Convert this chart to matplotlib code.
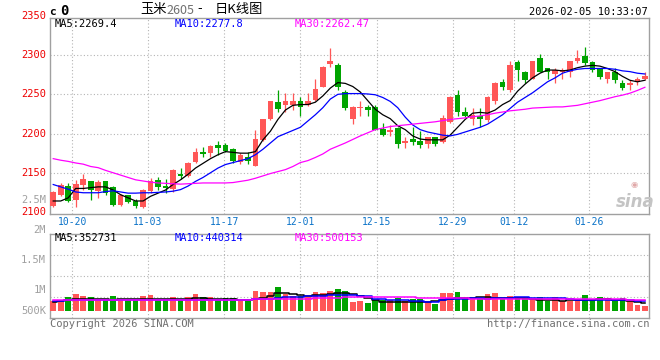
import numpy as np
import matplotlib
matplotlib.use("Agg")
import matplotlib.pyplot as plt
from matplotlib.transforms import blended_transform_factory

# daily candles (index 0 = first visible day)
opens = [2107, 2121, 2133, 2115, 2134, 2140, 2127, 2139, 2132, 2109,
         2121, 2114, 2106, 2127, 2141, 2133, 2129, 2149, 2146, 2164,
         2177, 2175, 2185, 2185, 2180, 2164, 2170, 2159, 2192, 2218,
         2240, 2236, 2237, 2242, 2236, 2243, 2260, 2289, 2288, 2253,
         2219, 2232, 2234, 2234, 2206, 2202, 2207, 2188, 2193, 2191,
         2187, 2195, 2189, 2215, 2249, 2228, 2218, 2223, 2217, 2241,
         2266, 2255, 2291, 2279, 2270, 2297, 2283, 2276, 2278, 2279,
         2292, 2299, 2291, 2282, 2270, 2279, 2264, 2262, 2266, 2270]
closes = [2126, 2134, 2114, 2136, 2142, 2128, 2138, 2124, 2109, 2121,
          2113, 2108, 2128, 2140, 2132, 2131, 2153, 2146, 2163, 2176,
          2174, 2184, 2181, 2178, 2165, 2173, 2165, 2193, 2218, 2241,
          2231, 2242, 2242, 2234, 2242, 2257, 2285, 2293, 2259, 2232,
          2234, 2234, 2230, 2205, 2198, 2205, 2187, 2191, 2189, 2186,
          2195, 2187, 2220, 2247, 2227, 2223, 2224, 2218, 2247, 2265,
          2260, 2287, 2281, 2268, 2293, 2278, 2278, 2281, 2281, 2292,
          2297, 2290, 2281, 2272, 2279, 2268, 2258, 2265, 2269, 2274]
highs = [2127, 2137, 2137, 2141, 2149, 2140, 2141, 2140, 2133, 2123,
         2122, 2117, 2129, 2143, 2145, 2142, 2155, 2156, 2164, 2181,
         2183, 2186, 2190, 2188, 2181, 2175, 2177, 2205, 2218, 2241,
         2256, 2252, 2252, 2247, 2252, 2269, 2286, 2309, 2290, 2256,
         2235, 2242, 2237, 2236, 2214, 2211, 2208, 2196, 2208, 2203,
         2195, 2196, 2224, 2248, 2256, 2234, 2233, 2232, 2248, 2266,
         2269, 2293, 2294, 2280, 2293, 2302, 2284, 2283, 2283, 2293,
         2306, 2311, 2292, 2284, 2279, 2283, 2268, 2268, 2272, 2279]
lows = [2106, 2120, 2113, 2106, 2128, 2115, 2118, 2122, 2107, 2108,
        2112, 2105, 2105, 2124, 2128, 2124, 2126, 2142, 2145, 2163,
        2170, 2170, 2173, 2176, 2163, 2161, 2161, 2158, 2190, 2217,
        2227, 2227, 2230, 2222, 2235, 2242, 2259, 2285, 2256, 2230,
        2212, 2222, 2222, 2204, 2197, 2197, 2182, 2182, 2186, 2182,
        2182, 2184, 2188, 2214, 2222, 2221, 2211, 2208, 2215, 2238,
        2255, 2253, 2267, 2265, 2270, 2278, 2270, 2264, 2270, 2272,
        2290, 2287, 2279, 2270, 2265, 2265, 2255, 2256, 2262, 2268]

ma5 = [2114, 2114, 2118, 2130, 2130, 2131, 2132, 2132, 2128, 2122,
       2118, 2114, 2114, 2120, 2124, 2128, 2135, 2141, 2148, 2156,
       2162, 2168, 2173, 2177, 2176, 2175, 2175, 2177, 2192, 2203,
       2218, 2230, 2236, 2237, 2237, 2240, 2248, 2258, 2265, 2264,
       2260, 2253, 2242, 2231, 2224, 2219, 2210, 2205, 2197, 2193,
       2192, 2192, 2192, 2198, 2208, 2218, 2226, 2227, 2226, 2230,
       2237, 2242, 2254, 2263, 2271, 2277, 2281, 2281, 2280, 2281,
       2284, 2286, 2287, 2286, 2283, 2279, 2273, 2268, 2266, 2268]
ma10 = [2135, 2132, 2129, 2125.5, 2124.5, 2124.5, 2124.5, 2126, 2127, 2125.5,
        2124, 2124, 2124.5, 2124.5, 2125, 2125.5, 2126.5, 2128.5, 2133, 2139,
        2144, 2150, 2156, 2160.5, 2163, 2165.5, 2168, 2173, 2180, 2188,
        2196, 2200, 2204, 2208, 2216, 2224, 2233, 2244, 2250, 2251,
        2251, 2251, 2250.5, 2249.5, 2246, 2241, 2233, 2221, 2211, 2205,
        2202, 2200, 2198, 2197, 2199, 2202, 2205, 2208, 2212, 2218,
        2224, 2232, 2240, 2246, 2252, 2259, 2266, 2271, 2277, 2280,
        2282, 2283, 2283, 2283, 2283, 2282, 2280, 2279, 2277, 2276]
ma30 = [2168, 2166, 2164.5, 2162.5, 2161, 2158, 2156.5, 2153, 2150, 2147,
        2144, 2141, 2139.5, 2138, 2137, 2136.5, 2136, 2135.5, 2136, 2136.5,
        2137, 2137, 2137, 2137, 2137.5, 2139, 2140.5, 2143, 2146, 2149,
        2151.5, 2154, 2158, 2163, 2165.5, 2169.5, 2174, 2180, 2184, 2188,
        2192.5, 2197, 2201, 2205, 2207, 2209, 2210, 2211, 2212, 2213,
        2214, 2215, 2216.5, 2218, 2219, 2220, 2221.5, 2222.5, 2224, 2226,
        2227.5, 2229, 2230, 2231, 2232.5, 2233, 2233.5, 2234, 2234, 2235,
        2236, 2238, 2240, 2242, 2244.5, 2247, 2249, 2251.5, 2255, 2259]

# volume in thousands
volume = [450, 450, 640, 765, 675, 630, 560, 490, 675, 500,
          490, 490, 675, 720, 490, 550, 640, 490, 630, 765,
          610, 630, 550, 565, 565, 470, 470, 900, 860, 860,
          1080, 770, 680, 680, 620, 860, 830, 900, 990, 900,
          405, 450, 360, 495, 495, 495, 600, 450, 540, 540,
          420, 315, 810, 810, 855, 540, 540, 600, 765, 810,
          540, 690, 600, 600, 540, 645, 450, 645, 450, 450,
          540, 720, 480, 645, 600, 450, 585, 450, 270, 225]
vma5 = [420, 450, 500, 540, 540, 540, 540, 520, 510, 520,
        530, 520, 520, 540, 540, 530, 520, 530, 550, 570,
        570, 560, 540, 520, 520, 510, 500, 540, 600, 690,
        790, 800, 760, 720, 690, 720, 740, 770, 800, 800,
        750, 690, 600, 495, 420, 390, 390, 390, 400, 420,
        420, 430, 495, 560, 570, 570, 600, 630, 620, 600,
        600, 580, 570, 570, 540, 510, 495, 480, 470, 480,
        480, 480, 500, 540, 540, 510, 490, 450, 400, 355]
vma10 = [450, 470, 490, 500, 510, 510, 510, 510, 510, 510,
         510, 510, 510, 510, 510, 510, 510, 510, 510, 510,
         510, 510, 510, 510, 510, 510, 510, 520, 540, 560,
         590, 620, 640, 650, 660, 680, 690, 700, 710, 720,
         700, 690, 660, 560, 520, 510, 495, 480, 450, 440,
         420, 420, 480, 540, 540, 560, 570, 570, 560, 570,
         570, 600, 615, 615, 590, 570, 570, 570, 570, 540,
         510, 495, 510, 510, 510, 500, 480, 480, 460, 440]
vma30 = [495, 495, 495, 495, 495, 495, 495, 495, 495, 495,
         495, 495, 495, 495, 495, 495, 495, 495, 495, 495,
         495, 495, 495, 495, 495, 495, 495, 520, 540, 540,
         560, 560, 560, 560, 560, 600, 600, 600, 600, 620,
         620, 620, 620, 620, 620, 620, 620, 620, 620, 590,
         590, 590, 590, 590, 590, 590, 540, 540, 540, 540,
         540, 540, 540, 540, 540, 540, 540, 540, 540, 540,
         540, 540, 540, 540, 540, 530, 520, 510, 505, 500]

date_labels = ["10-20", "11-03", "11-17", "12-01", "12-15", "12-29", "01-12", "01-26"]
date_pos = [2.55, 12.65, 22.85, 33.0, 43.2, 53.35, 61.5, 71.6]
price_labels = [2350, 2300, 2250, 2200, 2150, 2100]
vol_labels = ["2.5M", "2M", "1.5M", "1M", "500K"]

RED = "#ff5757"
GREEN = "#00a400"
GRID = "#b4b4b4"
BORDER = "#a0a0a0"
MONO = "DejaVu Sans Mono"
CJK = ["Noto Sans CJK SC", "DejaVu Sans"]

W, H = 660, 360
def fx(x): return x / W
def fy(y): return 1 - y / H

x = np.arange(len(opens))
o, c = np.array(opens), np.array(closes)
up = c >= o
cols = np.where(up, RED, GREEN)

fig = plt.figure(figsize=(6.6, 3.6), dpi=100)
fig.patch.set_facecolor("white")

ax = fig.add_axes([fx(50), fy(214), 599 / W, 196 / H])
av = fig.add_axes([fx(50), fy(318), 599 / W, 84 / H])

for a in (ax, av):
    a.set_xlim(-0.43, 79.55)
    for s in a.spines.values():
        s.set_color(BORDER)
        s.set_linewidth(1.0)
    a.set_xticks(date_pos)
    a.grid(True, color=GRID, linestyle=(0, (1, 2)), linewidth=0.8)
    a.set_axisbelow(True)
    a.tick_params(length=0)

# price panel
ax.set_ylim(2097.4, 2347.4)
ax.set_yticks([2150, 2200, 2250, 2300])
ax.set_yticklabels([])
ax.set_xticklabels(date_labels, fontfamily=MONO, fontsize=7, color="#0a72c8")
ax.tick_params(axis="x", pad=2.5)

ax.vlines(x, lows, highs, colors=cols, linewidth=0.9, zorder=2)
body = np.maximum(np.abs(c - o), 1.2)
ax.bar(x, body, bottom=np.minimum(o, c), width=0.76, color=cols, linewidth=0, zorder=3)
ax.plot(x, ma5, color="black", lw=0.9, zorder=4)
ax.plot(x, ma10, color="#0000ff", lw=0.9, zorder=4)
ax.plot(x, ma30, color="#ff00ff", lw=0.9, zorder=4)

tr = blended_transform_factory(ax.transAxes, ax.transData)
for p in price_labels:
    ax.text(-0.007, p, str(p), transform=tr, ha="right", va="center",
            fontfamily=MONO, fontsize=7.5, color="#ee0000", clip_on=False)

# volume panel
vol = np.array(volume) * 1000
av.set_ylim(-315e3, 3465e3)
av.set_yticks([0.65e6, 1.575e6, 2.5e6])
av.set_yticklabels([])
av.set_xticklabels([])
av.bar(x, vol, width=0.76, color=cols, linewidth=0, zorder=3)
av.plot(x, np.array(vma5) * 1000, color="black", lw=1.1, drawstyle="steps-mid", zorder=4)
av.plot(x, np.array(vma10) * 1000, color="#0000ff", lw=1.1, drawstyle="steps-mid", zorder=4)
av.plot(x, np.array(vma30) * 1000, color="#ff00ff", lw=1.1, drawstyle="steps-mid", zorder=4)

for lab, yy in zip(vol_labels, [200, 230, 260, 290, 311]):
    fig.text(fx(46), fy(yy), lab, ha="right", va="center",
             fontfamily=MONO, fontsize=7.5, color="#a0a0a0")

# header and legends
fig.text(fx(49), fy(12), "c", ha="left", va="center", fontfamily=MONO,
         fontsize=8, fontweight="bold", color="black")
fig.text(fx(60), fy(11), "0", ha="left", va="center", fontfamily=MONO,
         fontsize=10, fontweight="bold", color="black")
fig.text(fx(140), fy(9), "玉米", ha="left", va="center", family=CJK, fontsize=9.5, color="black")
fig.text(fx(166), fy(10), "2605", ha="left", va="center", family=CJK, fontsize=9, color="#707070")
fig.text(fx(197), fy(9), "-", ha="left", va="center", family=CJK, fontsize=9.5, color="black")
fig.text(fx(215), fy(9), "日K线图", ha="left", va="center", family=CJK, fontsize=9.5, color="black")
fig.text(fx(648), fy(12), "2026-02-05 10:33:07", ha="right", va="center",
         fontfamily=MONO, fontsize=7.5, color="black")

for txt, xx, col in [("MA5:2269.4", 55, "black"), ("MA10:2277.8", 175, "#0000ff"),
                     ("MA30:2262.47", 295, "#ff00ff")]:
    fig.text(fx(xx), fy(24), txt, ha="left", va="center", fontfamily=MONO, fontsize=7.5, color=col)
for txt, xx, col in [("MA5:352731", 55, "black"), ("MA10:440314", 175, "#0000ff"),
                     ("MA30:500153", 295, "#ff00ff")]:
    fig.text(fx(xx), fy(238), txt, ha="left", va="center", fontfamily=MONO, fontsize=7.5, color=col)

fig.text(fx(50), fy(324), "Copyright 2026 SINA.COM", ha="left", va="center",
         fontfamily=MONO, fontsize=7.5, color="#707070")
fig.text(fx(649), fy(324), "http://finance.sina.com.cn", ha="right", va="center",
         fontfamily=MONO, fontsize=7.5, color="#707070")

# watermark
fig.text(fx(635), fy(202), "sina", ha="center", va="center", fontsize=12,
         fontweight="bold", fontstyle="italic", color="#c4c4c4")
fig.text(fx(634), fy(184), "◉", ha="center", va="center", fontsize=6, color="#e0a8a8")

fig.savefig("out.png", dpi=100)
